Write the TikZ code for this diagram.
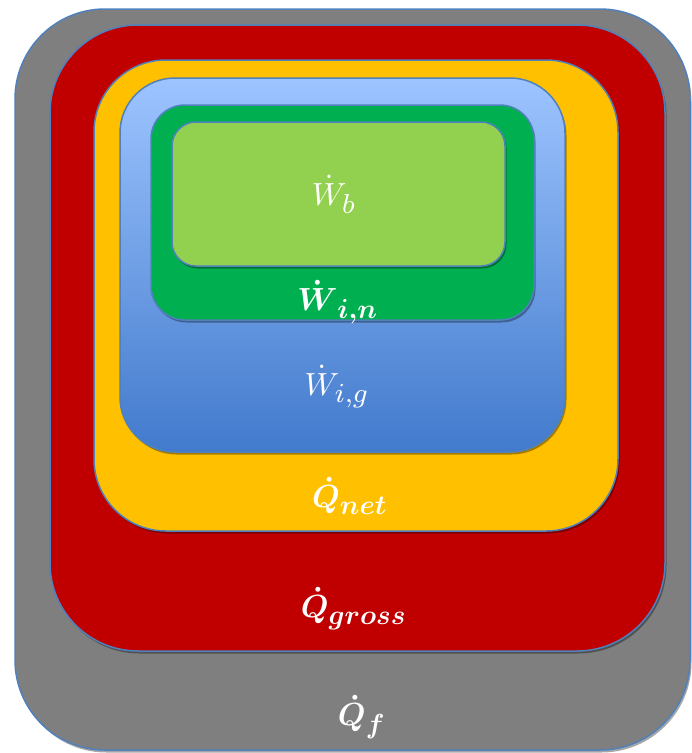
\documentclass[tikz,border=0pt]{standalone}
\usepackage{fix-cm}
\usepackage{amsmath}
\DeclareMathSizes{10}{10}{8.6}{6.5}
\usetikzlibrary{shadows}
\definecolor{edgeblue}{RGB}{79,129,189}
\definecolor{cgray}{RGB}{127,127,127}
\definecolor{cred}{RGB}{192,0,0}
\definecolor{cyellow}{RGB}{255,192,0}
\definecolor{cbluetop}{RGB}{157,196,255}
\definecolor{cbluebot}{RGB}{66,122,204}
\definecolor{cgreen}{RGB}{0,176,80}
\definecolor{clgreen}{RGB}{146,208,80}
\tikzset{
  layer/.style={draw=edgeblue, line width=1.5pt,
    drop shadow={shadow xshift=1.5pt, shadow yshift=-2.5pt, opacity=0.35, fill=black}},
  lbl/.style={text=white, anchor=base, inner sep=0pt, scale=3.2}
}
\begin{document}
\begin{tikzpicture}[x=1pt,y=-1pt]
\useasboundingbox (0,0) rectangle (692,753);
\fill[white] (0,0) rectangle (692,753);
% layers
\draw[layer, fill=cgray, rounded corners=90pt] (15,9) rectangle (690,750);
\draw[layer, fill=cred, rounded corners=88pt] (50,25) rectangle (665,651);
\draw[layer, fill=cyellow, rounded corners=72pt] (94,60) rectangle (618,531);
\draw[layer, top color=cbluetop, bottom color=cbluebot, rounded corners=55pt] (120,78) rectangle (565,452);
\draw[layer, fill=cgreen, rounded corners=34pt] (151,105) rectangle (534,320);
\draw[layer, fill=clgreen, rounded corners=24pt] (172,122) rectangle (505,266);
% labels
\node[lbl] (wb) at (334,205) {$\dot{W}_{b}$};
\node[lbl] (win) at (338,310) {$\boldsymbol{\dot{W}}_{\boldsymbol{i,n}}$};
\node[lbl] (wig) at (337,395) {$\dot{W}_{i,g}$};
\node[lbl] (qnet) at (350,507) {$\boldsymbol{\dot{Q}}_{\boldsymbol{net}}$};
\node[lbl] (qgross) at (354,617) {$\boldsymbol{\dot{Q}}_{\boldsymbol{gross}}$};
\node[lbl] (qf) at (362,725) {$\boldsymbol{\dot{Q}}_{\boldsymbol{f}}$};
\end{tikzpicture}
\end{document}
